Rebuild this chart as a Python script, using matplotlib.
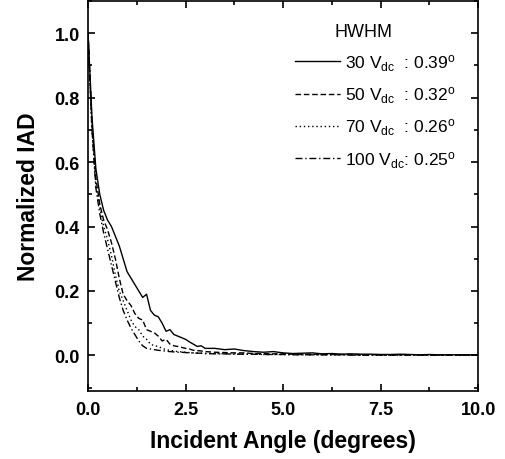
import numpy as np
import matplotlib.pyplot as plt
from matplotlib.ticker import MultipleLocator

plt.rcParams['font.family'] = ['Liberation Sans', 'DejaVu Sans']
plt.rcParams['mathtext.default'] = 'regular'

# incident angle (degrees)
angle = [0.0, 0.1, 0.2, 0.3, 0.4, 0.5, 0.6, 0.7, 0.8, 0.9,
         1.0, 1.1, 1.2, 1.3, 1.4, 1.5, 1.6, 1.7, 1.8, 1.9,
         2.0, 2.1, 2.2, 2.3, 2.4, 2.5, 2.6, 2.7, 2.8, 2.9,
         3.0, 3.25, 3.5, 3.75, 4.0, 4.25, 4.5, 4.75, 5.0, 5.25,
         5.5, 5.75, 6.0, 6.25, 6.5, 6.75, 7.0, 7.25, 7.5, 7.75,
         8.0, 8.25, 8.5, 8.75, 9.0, 9.25, 9.5, 9.75, 10.0]

iad_30 = [1.00, 0.74, 0.58, 0.50, 0.45, 0.42, 0.40, 0.37, 0.34, 0.30,
          0.26, 0.24, 0.22, 0.20, 0.18, 0.19, 0.14, 0.125, 0.12, 0.10,
          0.075, 0.08, 0.065, 0.06, 0.055, 0.05, 0.042, 0.035, 0.028, 0.03,
          0.022, 0.022, 0.018, 0.02, 0.015, 0.012, 0.01, 0.012, 0.008, 0.006,
          0.007, 0.008, 0.005, 0.006, 0.004, 0.005, 0.004, 0.004, 0.003, 0.003,
          0.004, 0.003, 0.002, 0.003, 0.002, 0.002, 0.002, 0.002, 0.002]

iad_50 = [1.00, 0.72, 0.55, 0.47, 0.42, 0.39, 0.35, 0.30, 0.24, 0.19,
          0.17, 0.155, 0.13, 0.115, 0.11, 0.08, 0.075, 0.07, 0.06, 0.045,
          0.05, 0.035, 0.03, 0.028, 0.025, 0.022, 0.02, 0.016, 0.015, 0.014,
          0.012, 0.01, 0.009, 0.008, 0.008, 0.006, 0.006, 0.005, 0.005, 0.004,
          0.004, 0.004, 0.003, 0.003, 0.003, 0.003, 0.002, 0.002, 0.002, 0.002,
          0.002, 0.002, 0.002, 0.001, 0.002, 0.001, 0.001, 0.001, 0.001]

iad_70 = [1.00, 0.70, 0.53, 0.46, 0.40, 0.36, 0.31, 0.25, 0.20, 0.17,
          0.14, 0.11, 0.09, 0.08, 0.06, 0.05, 0.035, 0.03, 0.028, 0.022,
          0.018, 0.016, 0.014, 0.012, 0.011, 0.01, 0.009, 0.008, 0.008, 0.007,
          0.006, 0.006, 0.005, 0.005, 0.004, 0.004, 0.003, 0.003, 0.003, 0.003,
          0.002, 0.002, 0.002, 0.002, 0.002, 0.002, 0.001, 0.001, 0.001, 0.001,
          0.001, 0.001, 0.001, 0.001, 0.001, 0.001, 0.001, 0.001, 0.001]

iad_100 = [1.00, 0.70, 0.52, 0.44, 0.38, 0.33, 0.28, 0.23, 0.18, 0.14,
           0.11, 0.085, 0.065, 0.045, 0.03, 0.022, 0.02, 0.018, 0.016, 0.015,
           0.013, 0.012, 0.011, 0.01, 0.01, 0.009, 0.008, 0.008, 0.007, 0.007,
           0.006, 0.005, 0.005, 0.004, 0.004, 0.004, 0.003, 0.003, 0.003, 0.002,
           0.002, 0.002, 0.002, 0.002, 0.002, 0.001, 0.001, 0.001, 0.001, 0.001,
           0.001, 0.001, 0.001, 0.001, 0.001, 0.001, 0.001, 0.001, 0.001]

labels = ['30 V$_{dc}$  : 0.39$^{o}$',
          '50 V$_{dc}$  : 0.32$^{o}$',
          '70 V$_{dc}$  : 0.26$^{o}$',
          '100 V$_{dc}$: 0.25$^{o}$']

fig = plt.figure(figsize=(5.06, 4.6), dpi=100)
ax = fig.add_axes([0.174, 0.148, 0.771, 0.848])

ax.plot(angle, iad_30, color='black', lw=1.0, ls='-', label=labels[0])
ax.plot(angle, iad_50, color='black', lw=1.0, ls=(0, (4, 2)), label=labels[1])
ax.plot(angle, iad_70, color='black', lw=1.0, ls=(0, (1, 2)), label=labels[2])
ax.plot(angle, iad_100, color='black', lw=1.0, ls=(0, (5, 2, 1, 2)), label=labels[3])

ax.set_xlim(0, 10)
ax.set_ylim(-0.11, 1.1)
ax.xaxis.set_major_locator(MultipleLocator(2.5))
ax.xaxis.set_minor_locator(MultipleLocator(1.25))
ax.yaxis.set_major_locator(MultipleLocator(0.2))
ax.yaxis.set_minor_locator(MultipleLocator(0.1))
ax.xaxis.set_major_formatter(plt.FormatStrFormatter('%.1f'))
ax.yaxis.set_major_formatter(plt.FormatStrFormatter('%.1f'))
ax.tick_params(which='both', direction='in', top=True, right=True, width=1.2)
ax.tick_params(which='major', length=5, labelsize=13)
ax.tick_params(axis='x', which='major', pad=7)
ax.tick_params(axis='y', which='major', pad=6)
ax.tick_params(which='minor', length=3)
for lab in ax.get_xticklabels() + ax.get_yticklabels():
    lab.set_fontweight('bold')
for s in ax.spines.values():
    s.set_linewidth(1.2)

ax.set_xlabel('Incident Angle (degrees)', fontsize=16.5, fontweight='bold', labelpad=8)
ax.set_ylabel('Normalized IAD', fontsize=16.5, fontweight='bold', labelpad=10)

leg = ax.legend(title='HWHM', loc='upper right', frameon=False, fontsize=12.5,
                title_fontsize=13, handlelength=2.6, handletextpad=0.3,
                labelspacing=0.67, borderaxespad=0.9)
leg.get_title().set_position((-12, 0))

fig.savefig('out.png', dpi=100)
